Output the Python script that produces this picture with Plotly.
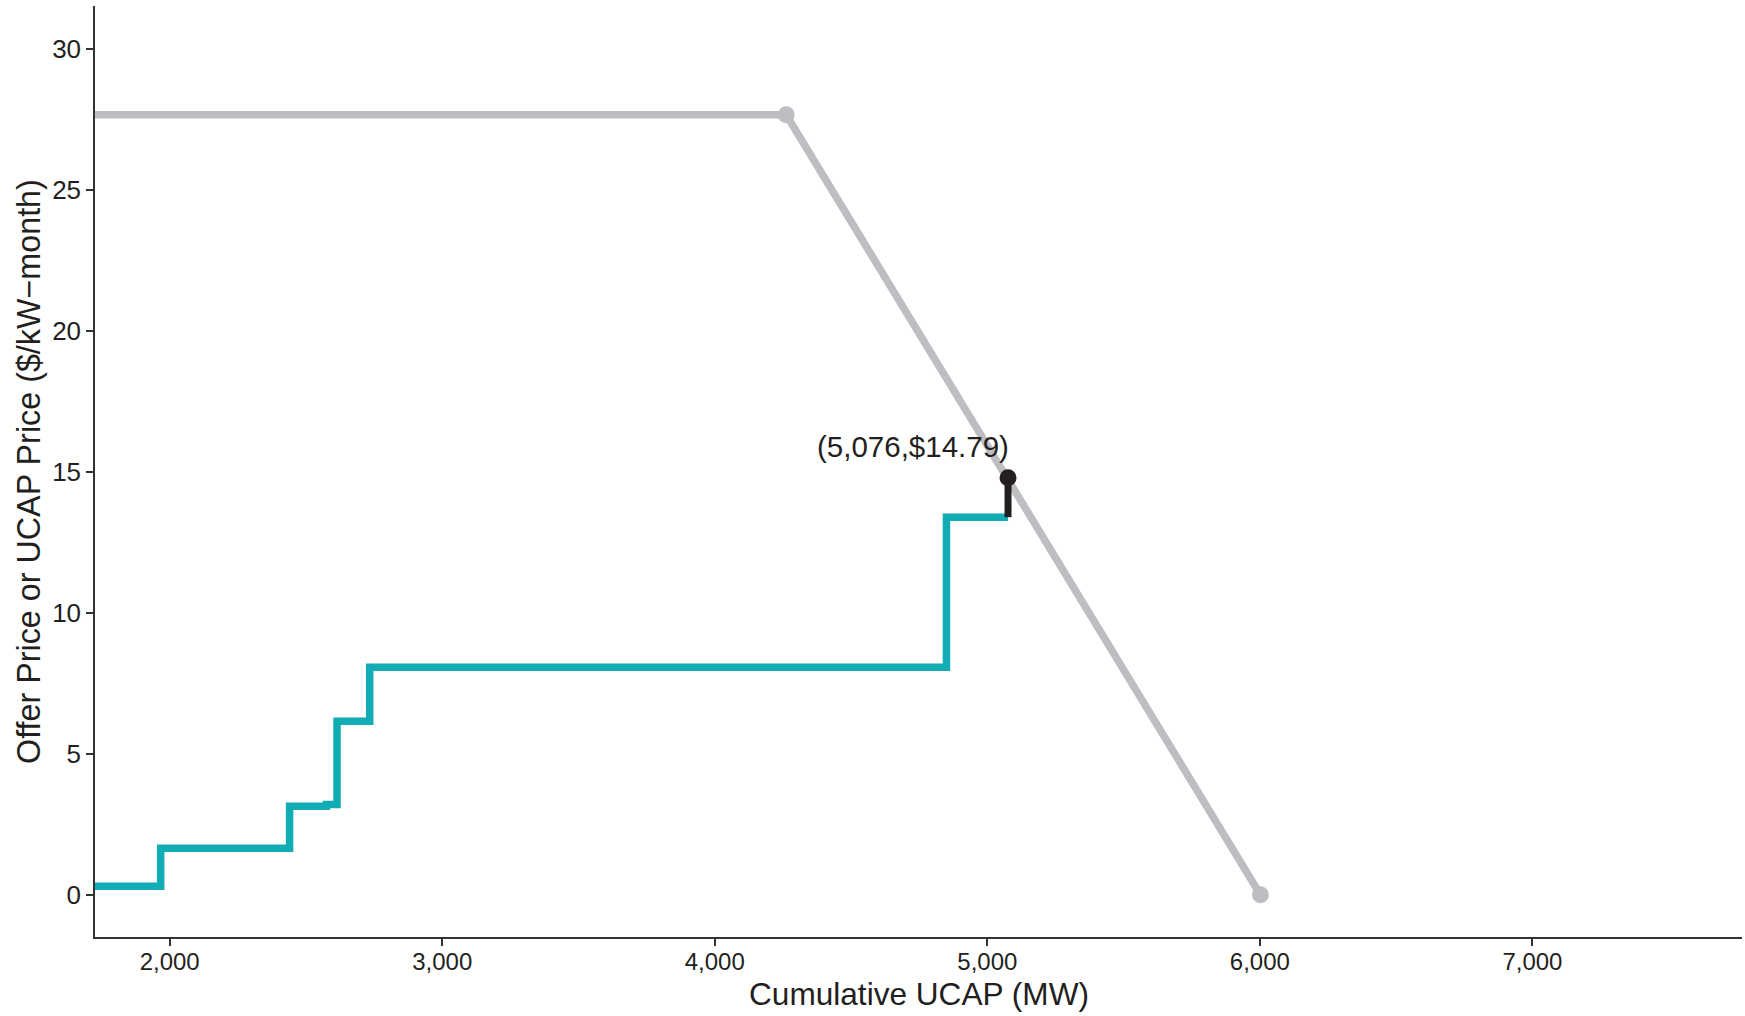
import plotly.graph_objects as go

# Demand curve (gray)
demand_x = [1500, 4262, 6002]
demand_y = [27.66, 27.66, 0.0]
demand_marker_x = [4262, 6002]
demand_marker_y = [27.66, 0.0]

# Offer supply curve (teal, step)
supply_x = [1500, 1967, 2440, 2575, 2614, 2734, 4850, 5076]
supply_y = [0.30, 1.65, 3.14, 3.20, 6.15, 8.07, 13.39, 13.39]

# Clearing point
clear_x = 5076
clear_y = 14.79
clear_base_y = 13.39
clear_label = "(5,076,$14.79)"

x_ticks = [2000, 3000, 4000, 5000, 6000, 7000]
x_tick_labels = ["2,000", "3,000", "4,000", "5,000", "6,000", "7,000"]
y_ticks = [0, 5, 10, 15, 20, 25, 30]

x_title = "Cumulative UCAP (MW)"
y_title = "Offer Price or UCAP Price ($/kW\u2212month)"

GRAY = "#BEBEC2"
TEAL = "#12ACB4"
BLACK = "#231F20"
FONT = "Liberation Sans, Arial, Helvetica, sans-serif"

fig = go.Figure()
fig.add_trace(go.Scatter(x=demand_x, y=demand_y, mode="lines",
                         line=dict(color=GRAY, width=7.5), hoverinfo="skip", showlegend=False))
fig.add_trace(go.Scatter(x=demand_marker_x, y=demand_marker_y, mode="markers",
                         marker=dict(color=GRAY, size=17), cliponaxis=False, showlegend=False))
fig.add_trace(go.Scatter(x=supply_x, y=supply_y, mode="lines", line_shape="hv",
                         line=dict(color=TEAL, width=7.5), showlegend=False))
fig.add_trace(go.Scatter(x=[clear_x, clear_x], y=[clear_base_y, clear_y], mode="lines",
                         line=dict(color=BLACK, width=7), showlegend=False))
fig.add_trace(go.Scatter(x=[clear_x], y=[clear_y], mode="markers",
                         marker=dict(color=BLACK, size=17), showlegend=False))

fig.add_annotation(x=clear_x, y=clear_y, text=clear_label, showarrow=False,
                   xanchor="right", yanchor="middle", xshift=3, yshift=31,
                   font=dict(family=FONT, size=29.5, color=BLACK))

# Axis titles placed as paper annotations
fig.add_annotation(x=0.5, y=-0.061, xref="paper", yref="paper", text=x_title,
                   showarrow=False, xanchor="center", yanchor="middle",
                   font=dict(family=FONT, size=31.6, color=BLACK))
fig.add_annotation(x=-0.0404, y=0.5, xref="paper", yref="paper", text=y_title,
                   showarrow=False, xanchor="center", yanchor="middle", textangle=-90,
                   font=dict(family=FONT, size=32.3, color=BLACK))

axis_common = dict(showgrid=False, zeroline=False, showline=True, linecolor="#333333",
                   linewidth=1.5, ticks="outside", ticklen=7, tickwidth=1.5, tickcolor="#333333",
                   automargin=False)

fig.update_xaxes(range=[1726, 7769], tickvals=x_ticks, ticktext=x_tick_labels,
                 ticklabelstandoff=-5,
                 tickfont=dict(family=FONT, size=24, color=BLACK), **axis_common)
fig.update_yaxes(range=[-1.5, 31.52], tickvals=y_ticks,
                 tickfont=dict(family=FONT, size=26, color=BLACK), **axis_common)

fig.update_layout(width=1745, height=1016, plot_bgcolor="white", paper_bgcolor="white",
                  margin=dict(l=95, r=3, t=6, b=79), showlegend=False,
                  font=dict(family=FONT, color=BLACK))

fig.write_html("out.html", config={"displayModeBar": False},
               post_script="document.body.style.margin='0';document.body.style.overflow='hidden';")
